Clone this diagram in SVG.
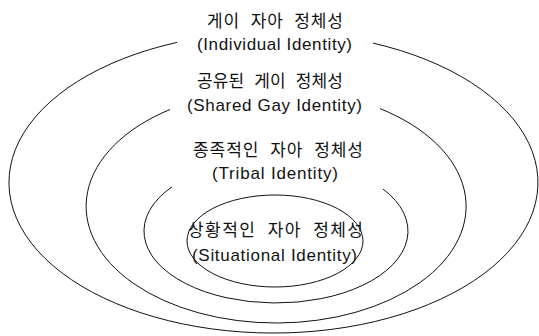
<svg xmlns="http://www.w3.org/2000/svg" width="539" height="336" viewBox="0 0 539 336">
  <style>
    .ring { fill: none; stroke: #111; stroke-width: 1; }
    .ko { font-family: "Noto Sans CJK KR", "Liberation Sans", sans-serif; font-size: 17px; fill: #111; word-spacing: 6px; }
    .en { font-family: "Liberation Sans", "Noto Sans CJK KR", sans-serif; font-size: 17px; fill: #111; }
  </style>
  <rect width="539" height="336" fill="#fff"/>
  <g id="individual">
    <path class="ring" d="M177,42.4 A264.5,150.5 0 1 0 373,43.1"/>
    <text class="ko" x="207" y="27" textLength="136" lengthAdjust="spacing">게이 자아 정체성</text>
    <text class="en" x="197" y="50" textLength="155" lengthAdjust="spacing">(Individual Identity)</text>
  </g>
  <g id="shared">
    <path class="ring" d="M170,109.5 A190,116.7 0 1 0 380,108.6"/>
    <text class="ko" x="197" y="87" textLength="146" lengthAdjust="spacing">공유된 게이 정체성</text>
    <text class="en" x="187" y="111" textLength="175" lengthAdjust="spacing">(Shared Gay Identity)</text>
  </g>
  <g id="tribal">
    <path class="ring" d="M172,186.8 A132,71.9 0 1 0 383,189"/>
    <text class="ko" x="193" y="156" textLength="170" lengthAdjust="spacing">종족적인 자아 정체성</text>
    <text class="en" x="212" y="179" textLength="126" lengthAdjust="spacing">(Tribal Identity)</text>
  </g>
  <g id="situational">
    <ellipse class="ring" cx="275" cy="241" rx="88" ry="46"/>
    <text class="ko" x="188" y="236" textLength="175" lengthAdjust="spacing">상황적인 자아 정체성</text>
    <text class="en" x="192" y="261" textLength="165" lengthAdjust="spacing">(Situational Identity)</text>
  </g>
  <g id="connectors"/>
</svg>
